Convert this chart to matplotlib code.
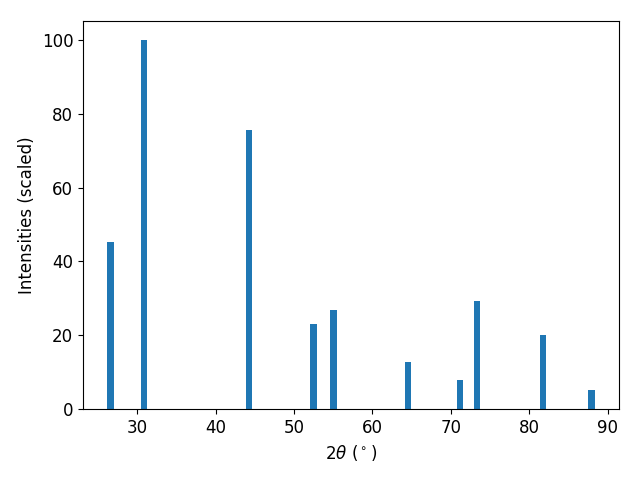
import matplotlib
matplotlib.use("Agg")
import matplotlib.pyplot as plt

# peak positions (2theta, degrees) and scaled intensities
two_theta = [26.62, 30.88, 44.27, 52.49, 55.04, 64.57, 71.2, 73.35, 81.75, 87.9]
intensities = [45.2, 100.0, 75.6, 23.0, 27.0, 12.7, 8.05, 29.2, 20.0, 5.3]

plt.rcParams["font.size"] = 12

fig = plt.figure(figsize=(6.4, 4.8), dpi=100)
plt.bar(two_theta, intensities)
plt.xlabel(r"$2\theta$ ($^\circ$)")
plt.ylabel("Intensities (scaled)")
fig.subplots_adjust(left=0.1297, right=0.967, top=0.9556, bottom=0.1473)
plt.savefig("out.png")
